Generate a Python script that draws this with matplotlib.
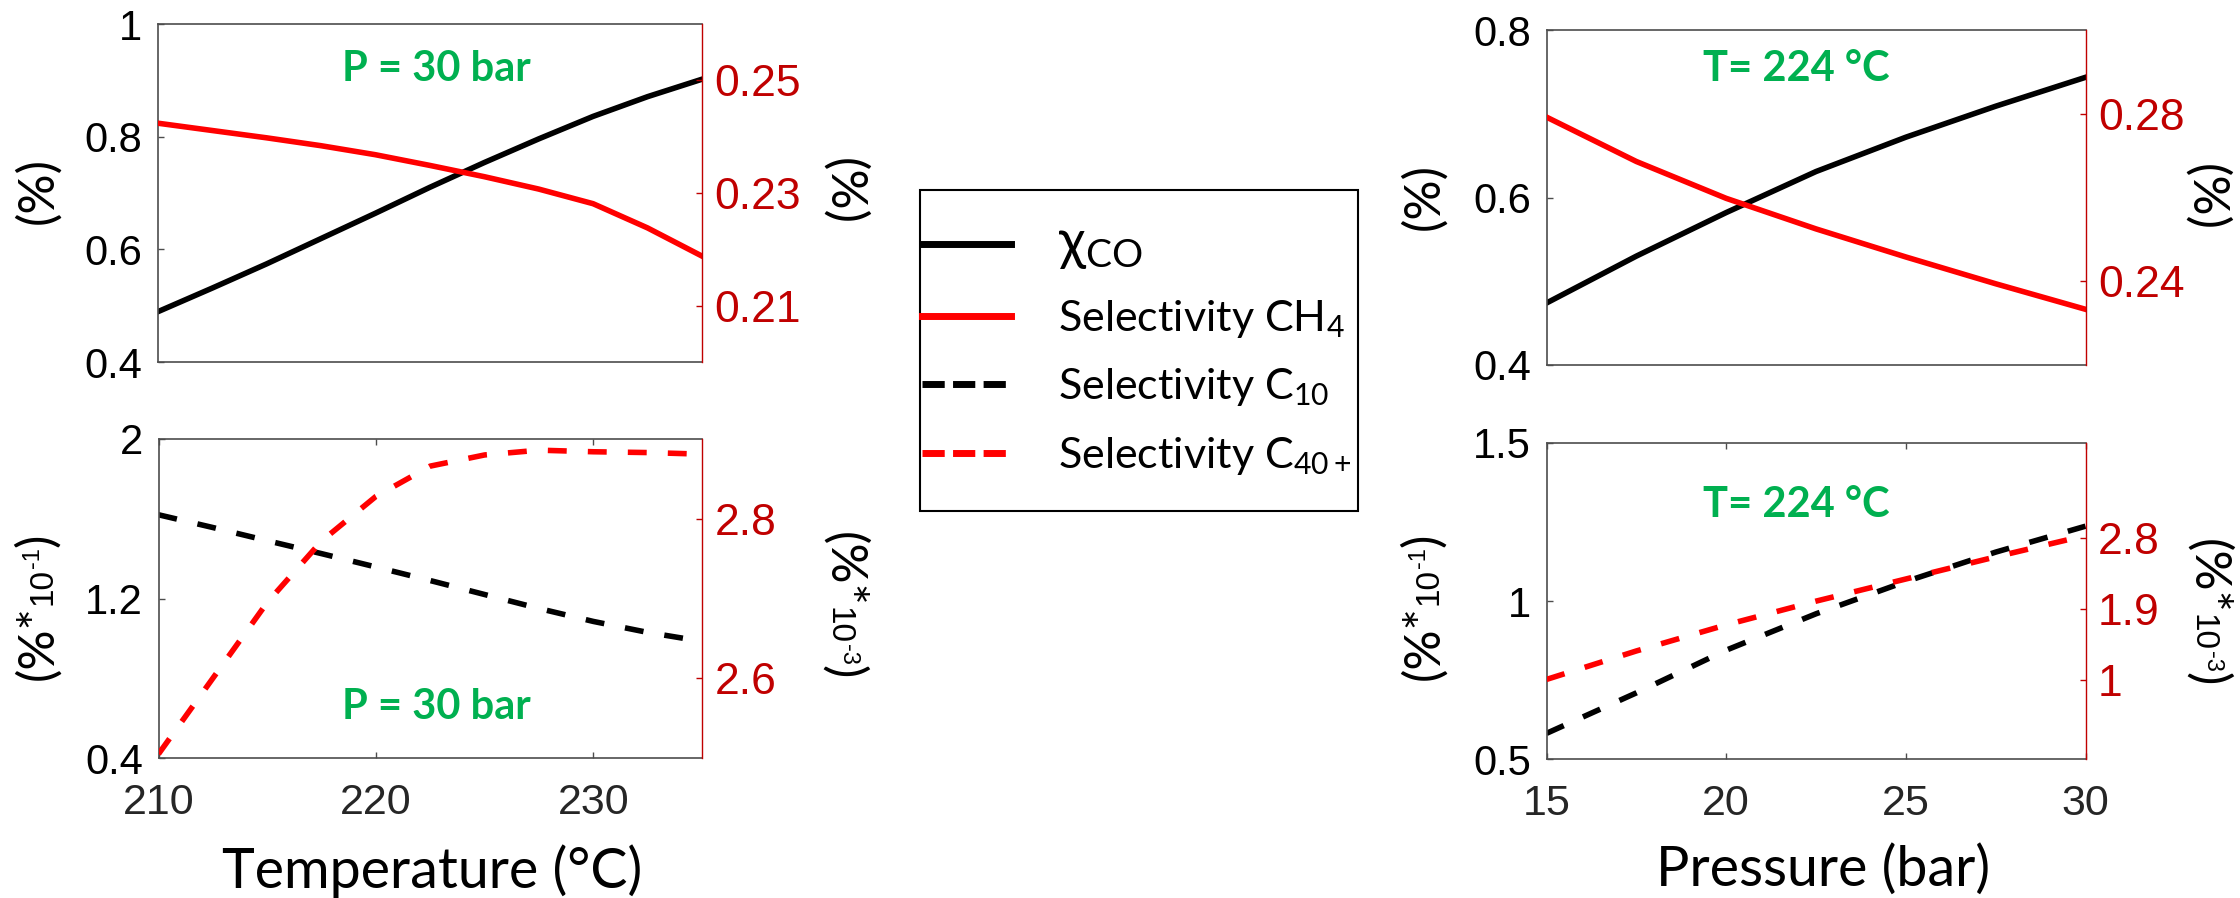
import matplotlib
matplotlib.use("Agg")
import matplotlib.pyplot as plt
from matplotlib.lines import Line2D
from matplotlib.patches import Rectangle

# ---------------- data ----------------
temperature = [210, 212.5, 215, 217.5, 220, 222.5, 225, 227.5, 230, 232.5, 235]
conv_co_T = [0.489, 0.531, 0.574, 0.619, 0.664, 0.710, 0.754, 0.796, 0.836, 0.871, 0.902]
sel_ch4_T = [0.2424, 0.2411, 0.2398, 0.2384, 0.2368, 0.2349, 0.2329, 0.2307, 0.2281, 0.2238, 0.2188]
sel_c10_T = [1.620, 1.556, 1.490, 1.425, 1.358, 1.290, 1.220, 1.150, 1.085, 1.030, 0.985]
sel_c40_T = [2.505, 2.600, 2.695, 2.772, 2.828, 2.866, 2.880, 2.886, 2.884, 2.883, 2.881]

pressure = [15, 17.5, 20, 22.5, 25, 27.5, 30]
conv_co_P = [0.474, 0.530, 0.582, 0.631, 0.672, 0.709, 0.7435]
sel_ch4_P = [0.2792, 0.2686, 0.2598, 0.2525, 0.2458, 0.2394, 0.2333]
sel_c10_P = [0.582, 0.710, 0.845, 0.960, 1.062, 1.155, 1.237]
sel_c40_P = [1.01, 1.37, 1.70, 2.00, 2.28, 2.56, 2.83]

xticks_T = [210, 220, 230]
xticks_P = [15, 20, 25, 30]
yt_tl_left, yl_tl_left = [0.4, 0.6, 0.8, 1.0], ["0.4", "0.6", "0.8", "1"]
yt_tl_right, yl_tl_right = [0.21, 0.23, 0.25], ["0.21", "0.23", "0.25"]
yt_bl_left, yl_bl_left = [0.4, 1.2, 2.0], ["0.4", "1.2", "2"]
yt_bl_right, yl_bl_right = [2.6, 2.8], ["2.6", "2.8"]
yt_tr_left, yl_tr_left = [0.4, 0.6, 0.8], ["0.4", "0.6", "0.8"]
yt_tr_right, yl_tr_right = [0.24, 0.28], ["0.24", "0.28"]
yt_br_left, yl_br_left = [0.5, 1.0, 1.5], ["0.5", "1", "1.5"]
yt_br_right, yl_br_right = [1.0, 1.9, 2.8], ["1", "1.9", "2.8"]

legend_labels = ["χ$_{\\mathregular{CO}}$", "Selectivity CH$_{\\mathregular{4}}$",
                 "Selectivity C$_{\\mathregular{10}}$", "Selectivity C$_{\\mathregular{40+}}$"]

# ---------------- style ----------------
plt.rcParams["font.family"] = ["Liberation Sans", "DejaVu Sans"]
plt.rcParams["mathtext.fontset"] = "custom"
plt.rcParams["mathtext.rm"] = "Liberation Sans"
plt.rcParams["mathtext.it"] = "Liberation Sans:italic"
plt.rcParams["mathtext.bf"] = "Liberation Sans:bold"

LABEL_FONT = ["Lato", "DejaVu Sans"]
NUM_FONT = ["Liberation Sans", "DejaVu Sans"]
FRAME = "#4d4d4d"
DKRED = "#C00000"
GREEN = "#00B050"
LW = 4.0
DASH = (0, (3.4, 3.8))

W, H = 2240, 898
fig = plt.figure(figsize=(W / 100, H / 100), dpi=100)


def rect(x0, x1, y0, y1):
    return [x0 / W, 1 - y1 / H, (x1 - x0) / W, (y1 - y0) / H]


ax_tl = fig.add_axes(rect(157.5, 702, 24, 362))
ax_bl = fig.add_axes(rect(158.5, 702, 439, 758))
ax_tr = fig.add_axes(rect(1546.5, 2085.5, 30, 365))
ax_br = fig.add_axes(rect(1546.5, 2085.5, 443, 759.3))


def style(ax, show_x, xlim, ylim, yt, yl):
    ax.set_xlim(*xlim)
    ax.set_ylim(*ylim)
    for s in ["left", "top", "bottom"]:
        ax.spines[s].set_color(FRAME)
        ax.spines[s].set_linewidth(1.2)
    ax.spines["right"].set_visible(False)
    ax.set_yticks(yt)
    ax.set_yticklabels(yl)
    ax.tick_params(axis="y", direction="in", length=4, width=1.0, color=FRAME,
                   labelsize=30, labelcolor="black", pad=11, right=True)
    if show_x is None:
        ax.set_xticks([])
    else:
        ax.set_xticks(show_x)
        ax.tick_params(axis="x", direction="in", length=4, width=1.0, color=FRAME,
                       labelsize=31, labelcolor="#262626", pad=18, top=True)
    axr = ax.twinx()
    for s in ["left", "top", "bottom"]:
        axr.spines[s].set_visible(False)
    axr.spines["right"].set_color(DKRED)
    axr.spines["right"].set_linewidth(1.0)
    return axr


def style_right(axr, ylim, yt, yl):
    axr.set_ylim(*ylim)
    axr.set_yticks(yt)
    axr.set_yticklabels(yl)
    axr.tick_params(axis="y", direction="in", length=4, width=1.0, color=DKRED,
                    labelsize=32, labelcolor=DKRED, pad=9)


# top-left
r_tl = style(ax_tl, None, (210, 235), (0.4, 1.0), yt_tl_left, yl_tl_left)
style_right(r_tl, (0.2, 0.26), yt_tl_right, yl_tl_right)
ax_tl.plot(temperature, conv_co_T, color="black", lw=LW)
r_tl.plot(temperature, sel_ch4_T, color="red", lw=LW)

# bottom-left
r_bl = style(ax_bl, xticks_T, (210, 235), (0.4, 2.0), yt_bl_left, yl_bl_left)
style_right(r_bl, (2.5, 2.9), yt_bl_right, yl_bl_right)
ax_bl.plot(temperature, sel_c10_T, color="black", lw=LW, linestyle=DASH)
r_bl.plot(temperature, sel_c40_T, color="red", lw=LW, linestyle=DASH)

# top-right
r_tr = style(ax_tr, None, (15, 30), (0.4, 0.8), yt_tr_left, yl_tr_left)
style_right(r_tr, (0.22, 0.30), yt_tr_right, yl_tr_right)
ax_tr.plot(pressure, conv_co_P, color="black", lw=LW)
r_tr.plot(pressure, sel_ch4_P, color="red", lw=LW)

# bottom-right
r_br = style(ax_br, xticks_P, (15, 30), (0.5, 1.5), yt_br_left, yl_br_left)
style_right(r_br, (0.0, 4.0), yt_br_right, yl_br_right)
ax_br.plot(pressure, sel_c10_P, color="black", lw=LW, linestyle=DASH)
r_br.plot(pressure, sel_c40_P, color="red", lw=LW, linestyle=DASH)

# green annotations
gkw = dict(ha="center", va="center", color=GREEN, fontsize=30, fontweight="bold", family=LABEL_FONT)
r_tl.text(0.512, 0.867, "P = 30 bar", transform=ax_tl.transAxes, **gkw)
r_bl.text(0.512, 0.16, "P = 30 bar", transform=ax_bl.transAxes, **gkw)
r_tr.text(0.463, 0.884, "T= 224 °C", transform=ax_tr.transAxes, **gkw)
r_br.text(0.463, 0.804, "T= 224 °C", transform=ax_br.transAxes, **gkw)

# rotated y labels built from pieces (big "(%*", small "10", superscript exponent)
renderer = fig.canvas.get_renderer()


def stacked_label(x_base, y_center, pieces, rot):
    items = []
    total = 0.0
    for s, fam, size, raise_px in pieces:
        t = fig.text(0, 0, s, family=fam, fontsize=size, rotation=rot,
                     rotation_mode="anchor", ha="left", va="baseline", color="black")
        ext = t.get_window_extent(renderer)
        items.append((t, ext.height, raise_px))
        total += ext.height
    yc = H - y_center
    if rot == 90:
        cur = yc - total / 2
        for t, ln, rp in items:
            t.set_position(((x_base - rp) / W, cur / H))
            cur += ln
    else:
        cur = yc + total / 2
        for t, ln, rp in items:
            t.set_position(((x_base + rp) / W, cur / H))
            cur -= ln


def pct_pieces():
    return [("(%)", LABEL_FONT, 36, 0)]


def exp_pieces(e):
    return [("(%*", LABEL_FONT, 36, 0), ("10", NUM_FONT, 24, 0),
            (e, NUM_FONT, 17, 13), (")", LABEL_FONT, 36, 0)]


stacked_label(52, 191, pct_pieces(), 90)
stacked_label(829, 192, pct_pieces(), -90)
stacked_label(52, 607, exp_pieces("-1"), 90)
stacked_label(829, 605, exp_pieces("-3"), -90)
stacked_label(1438, 197, pct_pieces(), 90)
stacked_label(2191, 197, pct_pieces(), -90)
stacked_label(1438, 607, exp_pieces("-1"), 90)
stacked_label(2193, 612, exp_pieces("-3"), -90)

# x labels
fig.text(432 / W, 1 - 888 / H, "Temperature (°C)", ha="center", va="baseline",
         fontsize=40, family=LABEL_FONT)
fig.text(1823 / W, 1 - 886 / H, "Pressure (bar)", ha="center", va="baseline",
         fontsize=40, family=LABEL_FONT)

# legend (frame drawn separately so the handles can sit close to its left edge)
handles = [
    Line2D([], [], color="black", lw=5),
    Line2D([], [], color="red", lw=5),
    Line2D([], [], color="black", lw=5, linestyle=(0, (3.2, 1.2))),
    Line2D([], [], color="red", lw=5, linestyle=(0, (3.2, 1.2))),
]
leg = fig.legend(handles, legend_labels, loc="upper left",
                 bbox_to_anchor=(922 / W, 1 - 218 / H), borderaxespad=0,
                 frameon=False, prop=dict(family=LABEL_FONT, size=31),
                 handlelength=2.07, handletextpad=1.1, labelspacing=0.62, borderpad=0)
leg.get_texts()[0].set_fontsize(40)
fig.add_artist(Rectangle((920 / W, 1 - 511 / H), 438 / W, 321 / H, transform=fig.transFigure,
                         fill=False, edgecolor="black", linewidth=1.5))

fig.savefig("out.png", dpi=100)
